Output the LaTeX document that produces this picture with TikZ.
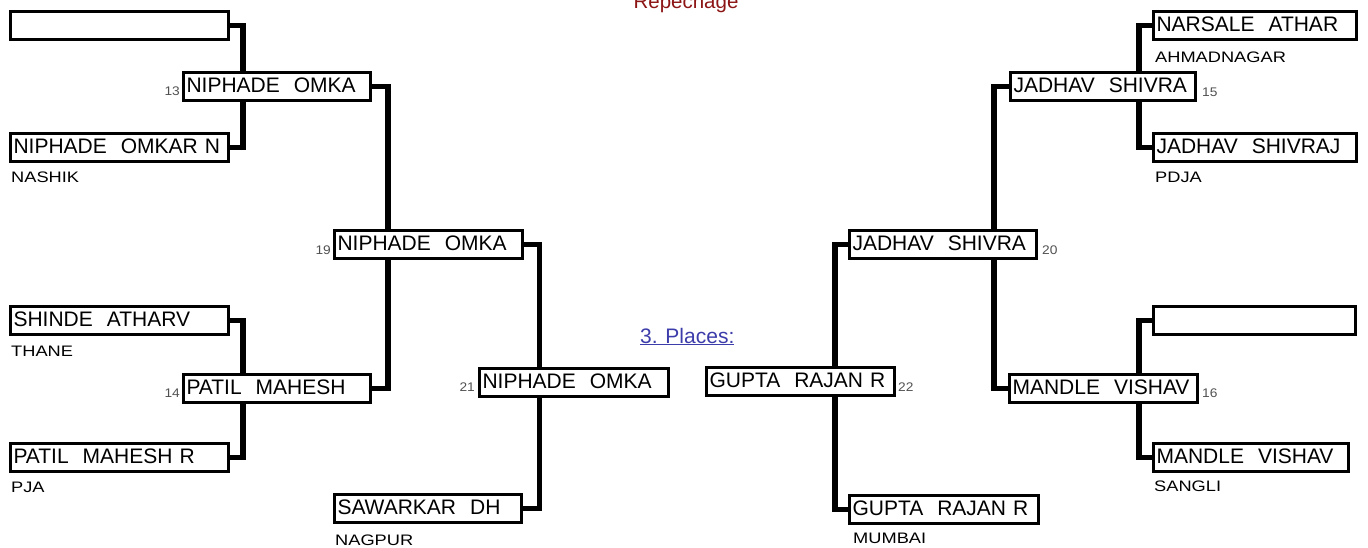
\documentclass[tikz,border=0pt]{standalone}
\usepackage{fontspec}
\setmainfont{Liberation Sans}
\newfontfamily\subfont[FakeStretch=1.2]{Liberation Sans}
\newfontfamily\numfont[FakeStretch=1.1]{Liberation Sans}
\definecolor{repred}{RGB}{140,20,20}
\definecolor{placeblue}{RGB}{60,60,170}
\definecolor{numgray}{RGB}{80,80,80}
\begin{document}
\begin{tikzpicture}[x=1pt,y=-1pt,
  pbox/.style={draw, line width=3pt, fill=white, anchor=north west,
    inner xsep=3pt, inner ysep=0pt, minimum height=28pt,
    text height=15pt, text depth=4pt, align=left,
    font=\fontsize{21}{24}\selectfont},
  numl/.style={font=\numfont\fontsize{12.5}{14}\selectfont, text=numgray, inner sep=0pt},
  subl/.style={font=\subfont\fontsize{15.2}{17}\selectfont, inner sep=0pt, anchor=base west},
  conn/.style={line width=5.5pt, line join=miter}]
\useasboundingbox (0,0) rectangle (1368,547);

% vertical connector columns
\coordinate (v1) at (243,0);
\coordinate (v2) at (388,0);
\coordinate (v3) at (539.5,0);
\coordinate (v4) at (835,0);
\coordinate (v5) at (994,0);
\coordinate (v6) at (1139,0);

% titles
\node[font=\fontsize{20.5}{22}\selectfont, text=repred, anchor=base, inner sep=0pt] (rep) at (686,8) {Repechage};
\node[font=\fontsize{21}{24}\selectfont, text=placeblue, anchor=base west, inner sep=0pt] (pl) at (640,343) {\underline{3. Places:}};

% left half
\node[pbox, text width=212pt] (a1) at (9,10) {};
\node[pbox, text width=212pt] (a2) at (9,132) {NIPHADE\ \ OMKAR N};
\node[subl] (s2) at (11,182) {NASHIK};
\node[pbox, text width=181pt] (n13) at (182,71) {NIPHADE\ \ OMKA};
\node[numl, anchor=base east] (l13) at (180,95) {13};
\node[pbox, text width=212pt] (a3) at (9,305) {SHINDE\ \ ATHARV};
\node[subl] (s3) at (11,356) {THANE};
\node[pbox, text width=181pt] (n14) at (182,373) {PATIL\ \ MAHESH};
\node[numl, anchor=base east] (l14) at (180,397) {14};
\node[pbox, text width=212pt] (a4) at (9,442) {PATIL\ \ MAHESH R};
\node[subl] (s4) at (11,492) {PJA};
\node[pbox, text width=182pt] (n19) at (333,229) {NIPHADE\ \ OMKA};
\node[numl, anchor=base east] (l19) at (331,254) {19};
\node[pbox, text width=183pt] (n21) at (478,367) {NIPHADE\ \ OMKA};
\node[numl, anchor=base east] (l21) at (475,391) {21};
\node[pbox, text width=181pt] (a5) at (333,493) {SAWARKAR\ \ DH};
\node[subl] (s5) at (335,545) {NAGPUR};

% right half
\node[pbox, text width=182pt] (n22) at (705,366) {GUPTA\ \ RAJAN R};
\node[numl, anchor=base west] (l22) at (898,391) {22};
\node[pbox, text width=183pt] (b5) at (848,494) {GUPTA\ \ RAJAN R};
\node[subl] (t5) at (853,543) {MUMBAI};
\node[pbox, text width=181pt] (n20) at (848,229) {JADHAV\ \ SHIVRA};
\node[numl, anchor=base west] (l20) at (1042,254) {20};
\node[pbox, text width=179pt] (n15) at (1009,71) {JADHAV\ \ SHIVRA};
\node[numl, anchor=base west] (l15) at (1202,96) {15};
\node[pbox, text width=197pt] (b1) at (1152,10) {NARSALE\ \ ATHAR};
\node[subl] (t1) at (1155,62) {AHMADNAGAR};
\node[pbox, text width=197pt] (b2) at (1152,132) {JADHAV\ \ SHIVRAJ};
\node[subl] (t2) at (1155,182) {PDJA};
\node[pbox, text width=182pt] (n16) at (1008,373) {MANDLE\ \ VISHAV};
\node[numl, anchor=base west] (l16) at (1202,397) {16};
\node[pbox, text width=196pt] (b3) at (1152,305) {};
\node[pbox, text width=189pt] (b4) at (1152,442) {MANDLE\ \ VISHAV};
\node[subl] (t4) at (1154,491) {SANGLI};

% connectors left
\draw[conn] (a1.east) -| (n13.north -| v1);
\draw[conn] (a2.east) -| (n13.south -| v1);
\draw[conn] (a3.east) -| (n14.north -| v1);
\draw[conn] (a4.east) -| (n14.south -| v1);
\draw[conn] (n13.east) -| (n19.north -| v2);
\draw[conn] (n14.east) -| (n19.south -| v2);
\draw[conn] (n19.east) -| (n21.north -| v3);
\draw[conn] (a5.east) -| (n21.south -| v3);

% connectors right
\draw[conn] (n20.west) -| (n22.north -| v4);
\draw[conn] (b5.west) -| (n22.south -| v4);
\draw[conn] (n15.west) -| (n20.north -| v5);
\draw[conn] (n16.west) -| (n20.south -| v5);
\draw[conn] (b1.west) -| (n15.north -| v6);
\draw[conn] (b2.west) -| (n15.south -| v6);
\draw[conn] (b3.west) -| (n16.north -| v6);
\draw[conn] (b4.west) -| (n16.south -| v6);
\end{tikzpicture}
\end{document}
